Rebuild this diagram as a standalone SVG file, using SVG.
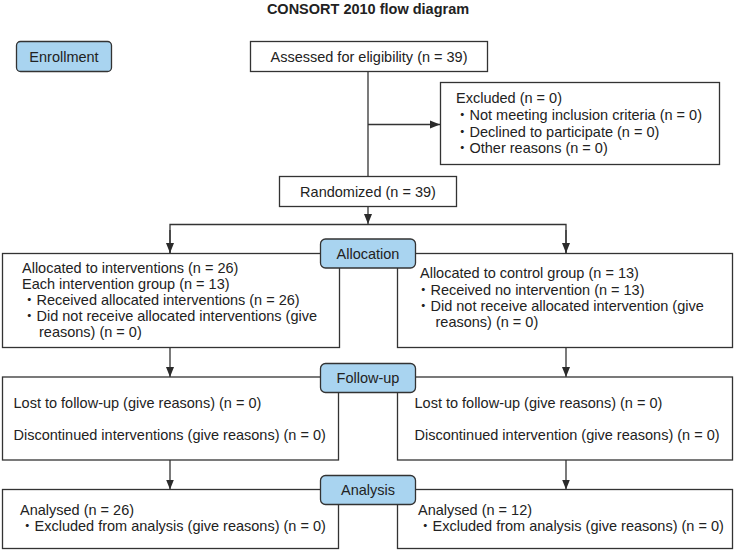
<svg xmlns="http://www.w3.org/2000/svg" width="735" height="550" viewBox="0 0 735 550">
<defs>
<marker id="arr" markerUnits="userSpaceOnUse" markerWidth="10" markerHeight="10" viewBox="0 0 10 10" refX="10" refY="5" orient="auto">
<path d="M0,1 L10,5 L0,9 Z" fill="#2b2b2b"/>
</marker>
</defs>
<style>
text{font-family:"Liberation Sans","Noto Sans CJK JP",Arial,sans-serif;font-size:14.5px;fill:#222}
.title{font-weight:bold;font-size:14.5px}
.box{fill:#fff;stroke:#333;stroke-width:1.3}
.lbl{fill:#a9d4f0;stroke:#333;stroke-width:1.3}
.c{text-anchor:middle}
.ln{fill:none;stroke:#333;stroke-width:1.3}
</style>
<rect width="735" height="550" fill="#fff"/>
<text class="title c" x="368" y="14">CONSORT 2010 flow diagram</text>

<g id="connectors">
<line class="ln" x1="368" y1="71.5" x2="368" y2="176.5"/>
<line class="ln" x1="368" y1="124.5" x2="440" y2="124.5" marker-end="url(#arr)"/>
<line class="ln" x1="368" y1="206.5" x2="368" y2="224" marker-end="url(#arr)"/>
<polyline class="ln" points="170,253 170,224.5 566,224.5 566,253" />
<line class="ln" x1="170" y1="230" x2="170" y2="253" marker-end="url(#arr)"/>
<line class="ln" x1="566" y1="230" x2="566" y2="253" marker-end="url(#arr)"/>
<line class="ln" x1="170" y1="347.5" x2="170" y2="377" marker-end="url(#arr)"/>
<line class="ln" x1="566" y1="347.5" x2="566" y2="377" marker-end="url(#arr)"/>
<line class="ln" x1="170" y1="460" x2="170" y2="489.5" marker-end="url(#arr)"/>
<line class="ln" x1="566" y1="460" x2="566" y2="489.5" marker-end="url(#arr)"/>
</g>

<g id="enrollment">
<rect class="lbl" x="16.5" y="41.5" width="95" height="30" rx="4"/>
<text class="c" x="64" y="61.5">Enrollment</text>
</g>

<g id="assessed">
<rect class="box" x="250.5" y="41.5" width="237" height="30"/>
<text class="c" x="369" y="61.5">Assessed for eligibility (n = 39)</text>
</g>

<g id="excluded">
<rect class="box" x="440.5" y="82.5" width="279" height="82"/>
<text x="456" y="103">Excluded (n = 0)</text>
<text x="455" y="120">・Not meeting inclusion criteria (n = 0)</text>
<text x="455" y="136.5">・Declined to participate (n = 0)</text>
<text x="455" y="153">・Other reasons (n = 0)</text>
</g>

<g id="randomized">
<rect class="box" x="279.5" y="176.5" width="177" height="30"/>
<text class="c" x="368" y="196.5">Randomized (n = 39)</text>
</g>

<g id="alloc-left">
<rect class="box" x="2.5" y="253.5" width="337" height="94"/>
<text x="22" y="273">Allocated to interventions (n = 26)</text>
<text x="22" y="289">Each intervention group (n = 13)</text>
<text x="22" y="305">・Received allocated interventions (n = 26)</text>
<text x="22" y="321">・Did not receive allocated interventions (give</text>
<text x="39" y="337">reasons) (n = 0)</text>
</g>

<g id="alloc-right">
<rect class="box" x="397.5" y="253.5" width="335" height="94"/>
<text x="420" y="278">Allocated to control group (n = 13)</text>
<text x="416" y="294.5">・Received no intervention (n = 13)</text>
<text x="416" y="311">・Did not receive allocated intervention (give</text>
<text x="435.5" y="327">reasons) (n = 0)</text>
</g>

<g id="allocation">
<rect class="lbl" x="320.5" y="239" width="95" height="29" rx="5"/>
<text class="c" x="368" y="259">Allocation</text>
</g>

<g id="followup-left">
<rect class="box" x="2.5" y="377" width="336" height="83"/>
<text x="13.5" y="408">Lost to follow-up (give reasons) (n = 0)</text>
<text x="13.5" y="440">Discontinued interventions (give reasons) (n = 0)</text>
</g>

<g id="followup-right">
<rect class="box" x="397.5" y="377" width="335" height="83"/>
<text x="414.5" y="408">Lost to follow-up (give reasons) (n = 0)</text>
<text x="414.5" y="440">Discontinued intervention (give reasons) (n = 0)</text>
</g>

<g id="followup">
<rect class="lbl" x="320.5" y="363.5" width="95" height="29" rx="5"/>
<text class="c" x="368" y="382.5">Follow-up</text>
</g>

<g id="analysis-left">
<rect class="box" x="2.5" y="489.5" width="336" height="59"/>
<text x="20" y="515">Analysed (n = 26)</text>
<text x="20" y="531">・Excluded from analysis (give reasons) (n = 0)</text>
</g>

<g id="analysis-right">
<rect class="box" x="397.5" y="489.5" width="335" height="59"/>
<text x="418" y="515">Analysed (n = 12)</text>
<text x="418" y="531">・Excluded from analysis (give reasons) (n = 0)</text>
</g>

<g id="analysis">
<rect class="lbl" x="320.5" y="475.5" width="95" height="29" rx="5"/>
<text class="c" x="368" y="495">Analysis</text>
</g>
</svg>
